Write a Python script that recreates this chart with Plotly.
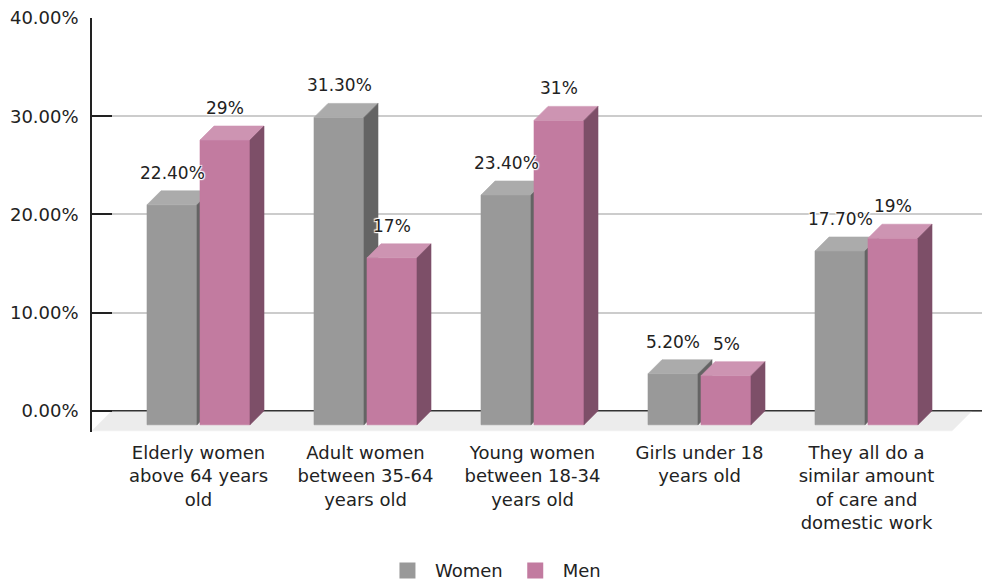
import plotly.graph_objects as go

# ---- data -------------------------------------------------------------
categories = [
    "Elderly women<br>above 64 years<br>old",
    "Adult women<br>between 35-64<br>years old",
    "Young women<br>between 18-34<br>years old",
    "Girls under 18<br>years old",
    "They all do a<br>similar amount<br>of care and<br>domestic work",
]
women = [0.224, 0.313, 0.234, 0.052, 0.177]
men = [0.29, 0.17, 0.31, 0.05, 0.19]
women_labels = ["22.40%", "31.30%", "23.40%", "5.20%", "17.70%"]
men_labels = ["29%", "17%", "31%", "5%", "19%"]
y_ticks = [0, 0.1, 0.2, 0.3, 0.4]

# ---- styling ----------------------------------------------------------
FONT = "DejaVu Sans"
TEXT = "#222222"
WOMEN_COLORS = dict(front="#999999", top="#ababab", side="#646464")
MEN_COLORS = dict(front="#c27ba0", top="#cd94b2", side="#7d4f68")

W, H = 982, 580
M_L, M_R, M_T, M_B = 92, 0, 18, 148
PX_PER_CAT = 167.0          # horizontal pixels per category slot
PX_PER_UNIT = 982.0         # vertical pixels per 1.0 (100%)
FIRST_CENTER_PX = 120.5     # first slot centre, measured from plot left edge

x_min = -FIRST_CENTER_PX / PX_PER_CAT
x_max = x_min + (W - M_L - M_R) / PX_PER_CAT
y_max = 0.40
y_min = y_max - (H - M_T - M_B) / PX_PER_UNIT

# 3D extrusion: front face sits lower-left of the back plane
DX = 14 / PX_PER_CAT
DY = 14 / PX_PER_UNIT
FLOOR_DX = 20 / PX_PER_CAT
FLOOR_DY = 20 / PX_PER_UNIT
BAR_W = 50 / PX_PER_CAT
BAR_OFF = 26.5 / PX_PER_CAT

fig = go.Figure()


def poly(xs, ys, color):
    fig.add_trace(go.Scatter(
        x=xs + [xs[0]], y=ys + [ys[0]], mode="lines", fill="toself",
        fillcolor=color, line=dict(color=color, width=0.6),
        hoverinfo="skip", showlegend=False,
    ))


# floor slab
floor_front_l = x_min
floor_front_r = x_max - 15 / PX_PER_CAT - FLOOR_DX + 5 / PX_PER_CAT
poly([floor_front_l, floor_front_r, floor_front_r + FLOOR_DX, floor_front_l + FLOOR_DX],
     [-FLOOR_DY, -FLOOR_DY, 0, 0], "#ececec")

# baseline along the back of the floor
fig.add_trace(go.Scatter(x=[x_min, x_max], y=[0, 0], mode="lines",
                         line=dict(color="#333333", width=1.6),
                         hoverinfo="skip", showlegend=False))


def bar3d(xc, v, colors):
    x0, x1 = xc - BAR_W / 2, xc + BAR_W / 2
    # front face
    poly([x0 - DX, x1 - DX, x1 - DX, x0 - DX], [-DY, -DY, v - DY, v - DY], colors["front"])
    # top face
    poly([x0 - DX, x1 - DX, x1, x0], [v - DY, v - DY, v, v], colors["top"])
    # side face
    poly([x1 - DX, x1, x1, x1 - DX], [-DY, 0, v, v - DY], colors["side"])


annotations = []
halo = ("1px 1px 1px #fff, -1px -1px 1px #fff, 1px -1px 1px #fff, "
        "-1px 1px 1px #fff, 0 0 2px #fff")
for i in range(len(categories)):
    for vals, labels, colors, off in ((women, women_labels, WOMEN_COLORS, -BAR_OFF),
                                      (men, men_labels, MEN_COLORS, BAR_OFF)):
        xc = i + off
        v = vals[i]
        bar3d(xc, v, colors)
        annotations.append(dict(
            x=xc - DX, y=v, xref="x", yref="y", text=labels[i],
            showarrow=False, yanchor="middle", yshift=18,
            font=dict(family=FONT, size=17, color=TEXT, shadow=halo),
        ))

# legend entries
for name, c in (("Women", WOMEN_COLORS["front"]), ("Men", MEN_COLORS["front"])):
    fig.add_trace(go.Scatter(x=[None], y=[None], mode="markers", name=name,
                             marker=dict(symbol="square", size=16, color=c)))

fig.update_layout(
    width=W, height=H,
    margin=dict(l=M_L, r=M_R, t=M_T, b=M_B),
    paper_bgcolor="white", plot_bgcolor="white",
    font=dict(family=FONT, color=TEXT),
    annotations=annotations,
    showlegend=True,
    legend=dict(orientation="h", xref="container", yref="container",
                x=0.502, xanchor="center", y=0.016, yanchor="middle",
                itemwidth=45,
                font=dict(family=FONT, size=18, color=TEXT),
                itemclick=False, itemdoubleclick=False),
)
fig.update_xaxes(
    range=[x_min, x_max], showgrid=False, zeroline=False, showline=False,
    tickmode="array", tickvals=[i - DX for i in range(len(categories))],
    ticktext=categories, ticks="", tickfont=dict(family=FONT, size=18, color=TEXT),
    ticklabelstandoff=8,
)
fig.update_yaxes(
    range=[y_min, y_max], tickmode="array", tickvals=y_ticks, tickformat=".2%",
    showgrid=True, gridcolor="#cccccc", gridwidth=1.6, zeroline=False,
    showline=True, linecolor="#222222", linewidth=1.6,
    ticks="inside", ticklen=20, tickwidth=1.6, tickcolor="#222222",
    tickfont=dict(family=FONT, size=18, color=TEXT), ticklabelstandoff=8,
)

fig.write_html("out.html")
